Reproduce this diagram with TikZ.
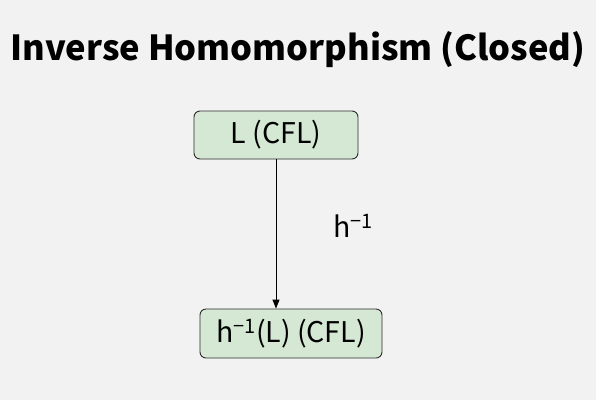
\documentclass[tikz,border=0pt]{standalone}
\usepackage{fontspec}
\setmainfont{Noto Sans CJK SC}
\usetikzlibrary{arrows.meta}
\definecolor{bg}{HTML}{F2F2F2}
\definecolor{boxfill}{HTML}{D5E8D4}
\definecolor{boxline}{HTML}{2B2B2B}
\newcommand\invsup{\textsuperscript{−1}}
\tikzset{
  box/.style={draw=boxline, fill=boxfill, line width=0.9pt, rounded corners=6pt, inner sep=0pt, font=\fontsize{28.5}{32}\selectfont},
  conn/.style={-{Triangle[length=9pt,width=7pt]}, line width=1pt, black},
}
\begin{document}
\begin{tikzpicture}[x=1pt,y=-1pt]
\fill[bg] (0,0) rectangle (596,400);
\useasboundingbox (0,0) rectangle (596,400);
\node[font=\fontsize{34.5}{40}\selectfont\bfseries] (title) at (298,50) {Inverse Homomorphism (Closed)};
\node[box, minimum width=164pt, minimum height=48pt] (top) at (276,135) {L (CFL)};
\node[box, minimum width=182pt, minimum height=49pt] (bot) at (291,333.5) {h\invsup(L) (CFL)};
\draw[conn] (top.south) -- (top.south |- bot.north);
\node[font=\fontsize{28.5}{32}\selectfont] (lbl) at (353,226) {h\invsup};
\end{tikzpicture}
\end{document}
